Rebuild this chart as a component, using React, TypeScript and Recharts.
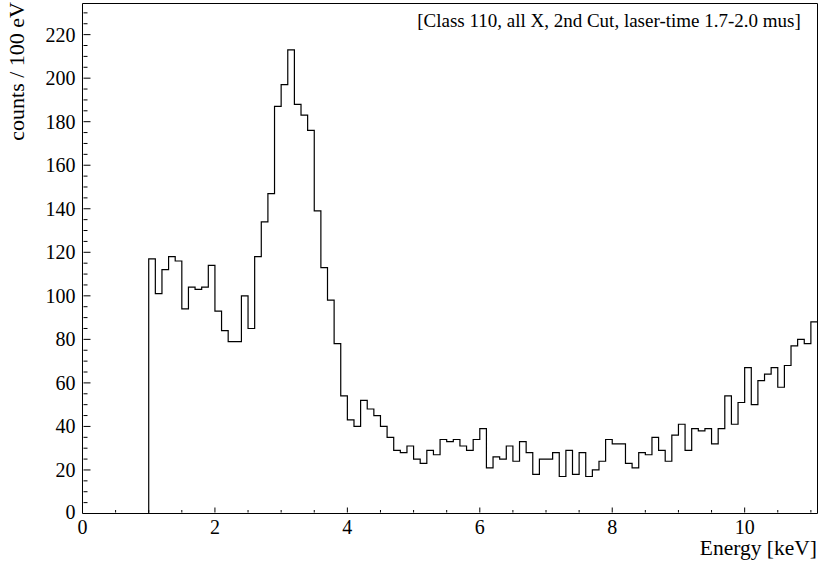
import { ComposedChart, Line, XAxis, YAxis, ReferenceArea } from "recharts"

// histogram: 100 eV bins, first bin starts at 1.0 keV
const binStart = 1.0
const binWidth = 0.1
const counts = [
  117, 101, 112, 118, 116, 94, 104, 103, 104, 114,
  93, 84, 79, 79, 100, 85, 118, 134, 147, 187,
  197, 213, 188, 183, 176, 139, 113, 98, 78, 54,
  43, 40, 52, 48, 45, 40, 35, 29, 28, 31,
  25, 23, 29, 27, 34, 33, 34, 31, 29, 34,
  39, 21, 26, 25, 31, 24, 33, 28, 18, 25,
  25, 28, 17, 29, 18, 28, 17, 20, 24, 34,
  32, 32, 23, 21, 28, 27, 35, 29, 24, 36,
  41, 29, 39, 38, 39, 32, 39, 54, 41, 51,
  67, 50, 61, 64, 67, 58, 68, 77, 80, 78,
  88,
]

const xMax = 11.1
const yMax = 234.3
const xTicks = [0, 0.5, 1, 1.5, 2, 2.5, 3, 3.5, 4, 4.5, 5, 5.5, 6, 6.5, 7, 7.5, 8, 8.5, 9, 9.5, 10, 10.5, 11]
const xLabels = [0, 2, 4, 6, 8, 10]
const yTicks = Array.from({ length: 47 }, (_, i) => i * 5)
const yLabels = [0, 20, 40, 60, 80, 100, 120, 140, 160, 180, 200, 220]

const title = "[Class 110, all X, 2nd Cut, laser-time 1.7-2.0 mus]"
const FONT = "'Liberation Serif', 'Times New Roman', serif"

const round1 = (v: number) => Math.round(v * 10) / 10

const data = [
  { x: binStart, y: 0 },
  ...counts.map((c, i) => ({ x: round1(binStart + i * binWidth), y: c })),
  { x: round1(binStart + counts.length * binWidth), y: counts[counts.length - 1] },
]

// ticks point inwards, ROOT style; axis sits on the plot edge (tickSize/margin 0)
function XTick(props: any) {
  const { x, y, payload } = props
  const major = xLabels.includes(payload.value)
  const y0 = y - 1
  return (
    <g>
      <line x1={x} y1={y0} x2={x} y2={y0 - (major ? 5 : 2.5)} stroke="#000" strokeWidth={1} />
      {major && (
        <text x={x} y={y0 + 21} textAnchor="middle" fontFamily={FONT} fontSize={20} fill="#000">
          {payload.value}
        </text>
      )}
    </g>
  )
}

function YTick(props: any) {
  const { x, y, payload } = props
  const major = yLabels.includes(payload.value)
  const x0 = x + 1
  return (
    <g>
      <line x1={x0} y1={y} x2={x0 + (major ? 7 : 4)} y2={y} stroke="#000" strokeWidth={1} />
      {major && (
        <text
          x={x0 - 8}
          y={payload.value === 0 ? y + 5 : y + 7}
          textAnchor="end"
          fontFamily={FONT}
          fontSize={20}
          fill="#000"
        >
          {payload.value}
        </text>
      )}
    </g>
  )
}

export default function App() {
  return (
    <div style={{ position: "absolute", left: 0, top: 0, width: 818, height: 562, background: "#fff" }}>
      <ComposedChart
        width={818}
        height={562}
        data={data}
        margin={{ top: 3.5, right: 0.5, left: 81.5, bottom: 47.5 }}
      >
        <XAxis
          type="number"
          dataKey="x"
          domain={[0, xMax]}
          ticks={xTicks}
          interval={0}
          allowDataOverflow
          height={1}
          tickSize={0}
          tickMargin={0}
          tickLine={false}
          axisLine={false}
          tick={<XTick />}
        />
        <YAxis
          type="number"
          domain={[0, yMax]}
          ticks={yTicks}
          interval={0}
          allowDataOverflow
          width={1}
          tickSize={0}
          tickMargin={0}
          tickLine={false}
          axisLine={false}
          tick={<YTick />}
        />
        <Line
          type="stepAfter"
          dataKey="y"
          stroke="#000"
          strokeWidth={1.2}
          dot={false}
          activeDot={false}
          isAnimationActive={false}
        />
        <ReferenceArea x1={0} x2={xMax} y1={0} y2={yMax} fill="none" stroke="#000" strokeWidth={1} ifOverflow="visible" />
      </ComposedChart>
      <div
        style={{
          position: "absolute",
          left: 401,
          top: 1,
          width: 416,
          height: 39,
          display: "flex",
          alignItems: "center",
          justifyContent: "center",
          fontFamily: FONT,
          fontSize: 19,
          color: "#000",
          whiteSpace: "nowrap",
        }}
      >
        {title}
      </div>
      <div
        style={{
          position: "absolute",
          left: 6,
          top: 2,
          transform: "rotate(-90deg)",
          transformOrigin: "0 0",
          fontFamily: FONT,
          fontSize: 22,
          lineHeight: "22px",
          whiteSpace: "nowrap",
          color: "#000",
        }}
      >
        <div style={{ transform: "translateX(-100%)", display: "inline-block" }}>counts / 100 eV</div>
      </div>
      <div
        style={{
          position: "absolute",
          right: 1,
          top: 536,
          fontFamily: FONT,
          fontSize: 21.5,
          lineHeight: "24px",
          whiteSpace: "nowrap",
          color: "#000",
        }}
      >
        Energy [keV]
      </div>
    </div>
  )
}
